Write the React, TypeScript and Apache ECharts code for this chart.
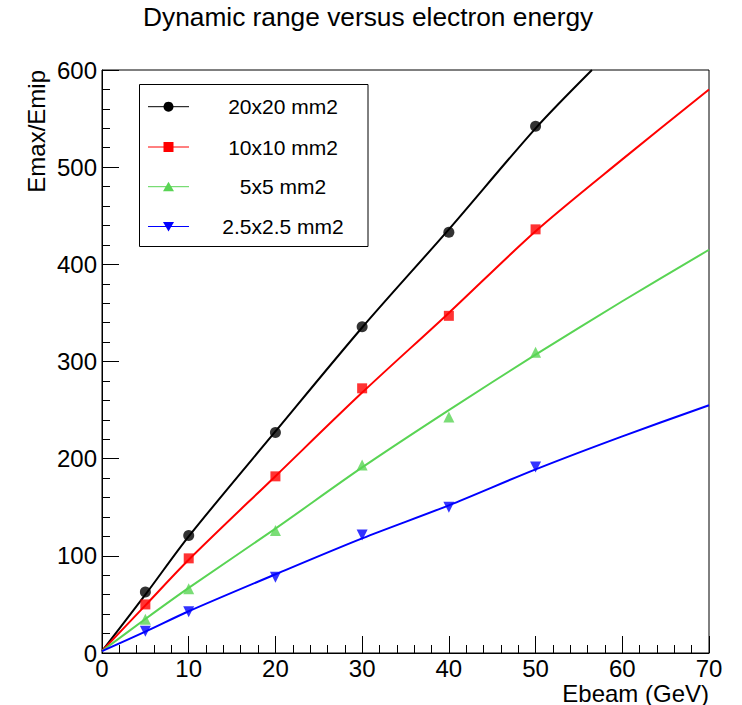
import React, { useEffect, useRef } from "react";
import * as echarts from "echarts";

// Measured points (Ebeam in GeV, Emax/Emip)
const energies = [5, 10, 20, 30, 40, 50];
const dr20x20 = [62.8, 121, 227, 335.8, 433, 542];
const dr10x10 = [50, 97.4, 181.8, 272.4, 347, 436];
const dr5x5 = [34.7, 66, 126, 193.5, 243, 309.4];
const dr2p5 = [22.3, 42.5, 78, 121.5, 150, 191.5];

// Fit curves
const fitX20 = [0, 5, 10, 20, 30, 40, 50, 56.5];
const fit20x20 = [2, 60, 120, 228, 335, 436, 540, 600];
const fitX = [0, 5, 10, 20, 30, 40, 50, 60, 70];
const fit10x10 = [2, 49, 96, 182, 268, 350, 434, 508, 580];
const fit5x5 = [2, 35, 67, 128, 191, 250, 307, 362, 415];
const fit2p5 = [2, 22, 43, 81, 118, 152, 189, 223, 255];

const labels = ["20x20 mm2", "10x10 mm2", "5x5 mm2", "2.5x2.5 mm2"];
const colors = ["#000000", "#ff0000", "#59d454", "#0000ff"];

const FONT = "'Liberation Sans', Arial, Helvetica, sans-serif";

function pairs(xs: number[], ys: number[]) {
  return xs.map((x, i) => [x, ys[i]]);
}

export default function App() {
  const ref = useRef<HTMLDivElement>(null);
  useEffect(() => {
    if (!ref.current) return;
    const chart = echarts.init(ref.current, null, { renderer: "svg" });

    const markerVals = [dr20x20, dr10x10, dr5x5, dr2p5];
    const symbols = ["circle", "rect", "triangle", "triangle"];
    const rotates = [0, 0, 0, 180];
    const sizes = [11, 10, 11, 11];
    const fits = [
      pairs(fitX20, fit20x20),
      pairs(fitX, fit10x10),
      pairs(fitX, fit5x5),
      pairs(fitX, fit2p5),
    ];

    const series: any[] = [];
    fits.forEach((d, i) => {
      series.push({
        type: "line",
        name: labels[i] + " fit",
        data: d,
        showSymbol: false,
        smooth: 0.3,
        clip: true,
        lineStyle: { color: colors[i], width: 2 },
        z: 2,
      });
    });
    markerVals.forEach((v, i) => {
      series.push({
        type: "scatter",
        name: labels[i],
        data: pairs(energies, v),
        symbol: symbols[i],
        symbolRotate: rotates[i],
        symbolSize: sizes[i],
        itemStyle: { color: colors[i] },
        z: 3,
      });
    });

    // Legend drawn as graphic elements
    const legendX0 = 148,
      legendX1 = 189,
      mx = 168.5;
    const rowsY = [106.7, 147, 186.7, 226.5];
    const legendEls: any[] = [
      {
        type: "rect",
        shape: { x: 139.5, y: 84.5, width: 228.5, height: 162 },
        style: { fill: "#fff", stroke: "#000", lineWidth: 1 },
        z: 10,
      },
    ];
    rowsY.forEach((y, i) => {
      legendEls.push({
        type: "line",
        shape: { x1: legendX0, y1: y, x2: legendX1, y2: y },
        style: { stroke: colors[i], lineWidth: 1 },
        z: 11,
      });
      let m: any;
      if (i === 0) m = { type: "circle", shape: { cx: mx, cy: y, r: 5 } };
      else if (i === 1)
        m = { type: "rect", shape: { x: mx - 5, y: y - 5, width: 10, height: 10 } };
      else if (i === 2)
        m = {
          type: "polygon",
          shape: { points: [[mx - 5.5, y + 4.5], [mx + 5.5, y + 4.5], [mx, y - 5]] },
        };
      else
        m = {
          type: "polygon",
          shape: { points: [[mx - 5.5, y - 4.5], [mx + 5.5, y - 4.5], [mx, y + 5]] },
        };
      m.style = { fill: colors[i] };
      m.z = 12;
      legendEls.push(m);
      legendEls.push({
        type: "text",
        x: 283,
        y: y,
        style: {
          text: labels[i],
          font: `21px ${FONT}`,
          fill: "#000",
          align: "center",
          verticalAlign: "middle",
        },
        z: 12,
      });
    });

    legendEls.push({
      type: "text",
      x: 48,
      y: 70,
      rotation: Math.PI / 2,
      style: {
        text: "Emax/Emip",
        font: `24px ${FONT}`,
        fill: "#000",
        align: "right",
        verticalAlign: "bottom",
      },
    });

    chart.setOption({
      animation: false,
      backgroundColor: "#ffffff",
      textStyle: { fontFamily: FONT },
      title: {
        text: "Dynamic range versus electron energy",
        left: 143,
        top: 4,
        padding: 0,
        textStyle: { fontSize: 26.3, fontWeight: "normal", color: "#000", fontFamily: FONT },
      },
      grid: {
        left: 102,
        right: 33,
        top: 70,
        bottom: 52,
        show: true,
        borderColor: "#000",
        borderWidth: 1,
        backgroundColor: "transparent",
      },
      xAxis: {
        type: "value",
        min: 0,
        max: 70,
        interval: 10,
        name: "Ebeam (GeV)",
        nameLocation: "end",
        nameGap: 0,
        nameTextStyle: {
          fontSize: 24,
          color: "#000",
          align: "right",
          verticalAlign: "top",
          padding: [28, 0, 0, 0],
        },
        axisLine: { show: true, onZero: false, lineStyle: { color: "#000", width: 1 } },
        axisTick: { show: true, inside: true, length: 17, lineStyle: { color: "#000" } },
        minorTick: { show: true, splitNumber: 5, length: 8, lineStyle: { color: "#000" } },
        axisLabel: { fontSize: 24, color: "#000", margin: 3 },
        splitLine: { show: false },
        minorSplitLine: { show: false },
      },
      yAxis: {
        type: "value",
        min: 0,
        max: 600,
        interval: 100,
        axisLine: { show: true, onZero: false, lineStyle: { color: "#000", width: 1 } },
        axisTick: { show: true, inside: true, length: 17, lineStyle: { color: "#000" } },
        minorTick: { show: true, splitNumber: 5, length: 8, lineStyle: { color: "#000" } },
        axisLabel: { fontSize: 24, color: "#000", margin: 5 },
        splitLine: { show: false },
        minorSplitLine: { show: false },
      },
      graphic: legendEls,
      series,
    });
    return () => chart.dispose();
  }, []);
  return (
    <div
      ref={ref}
      style={{ position: "fixed", left: 0, top: 0, width: 742, height: 705, background: "#fff" }}
    />
  );
}
